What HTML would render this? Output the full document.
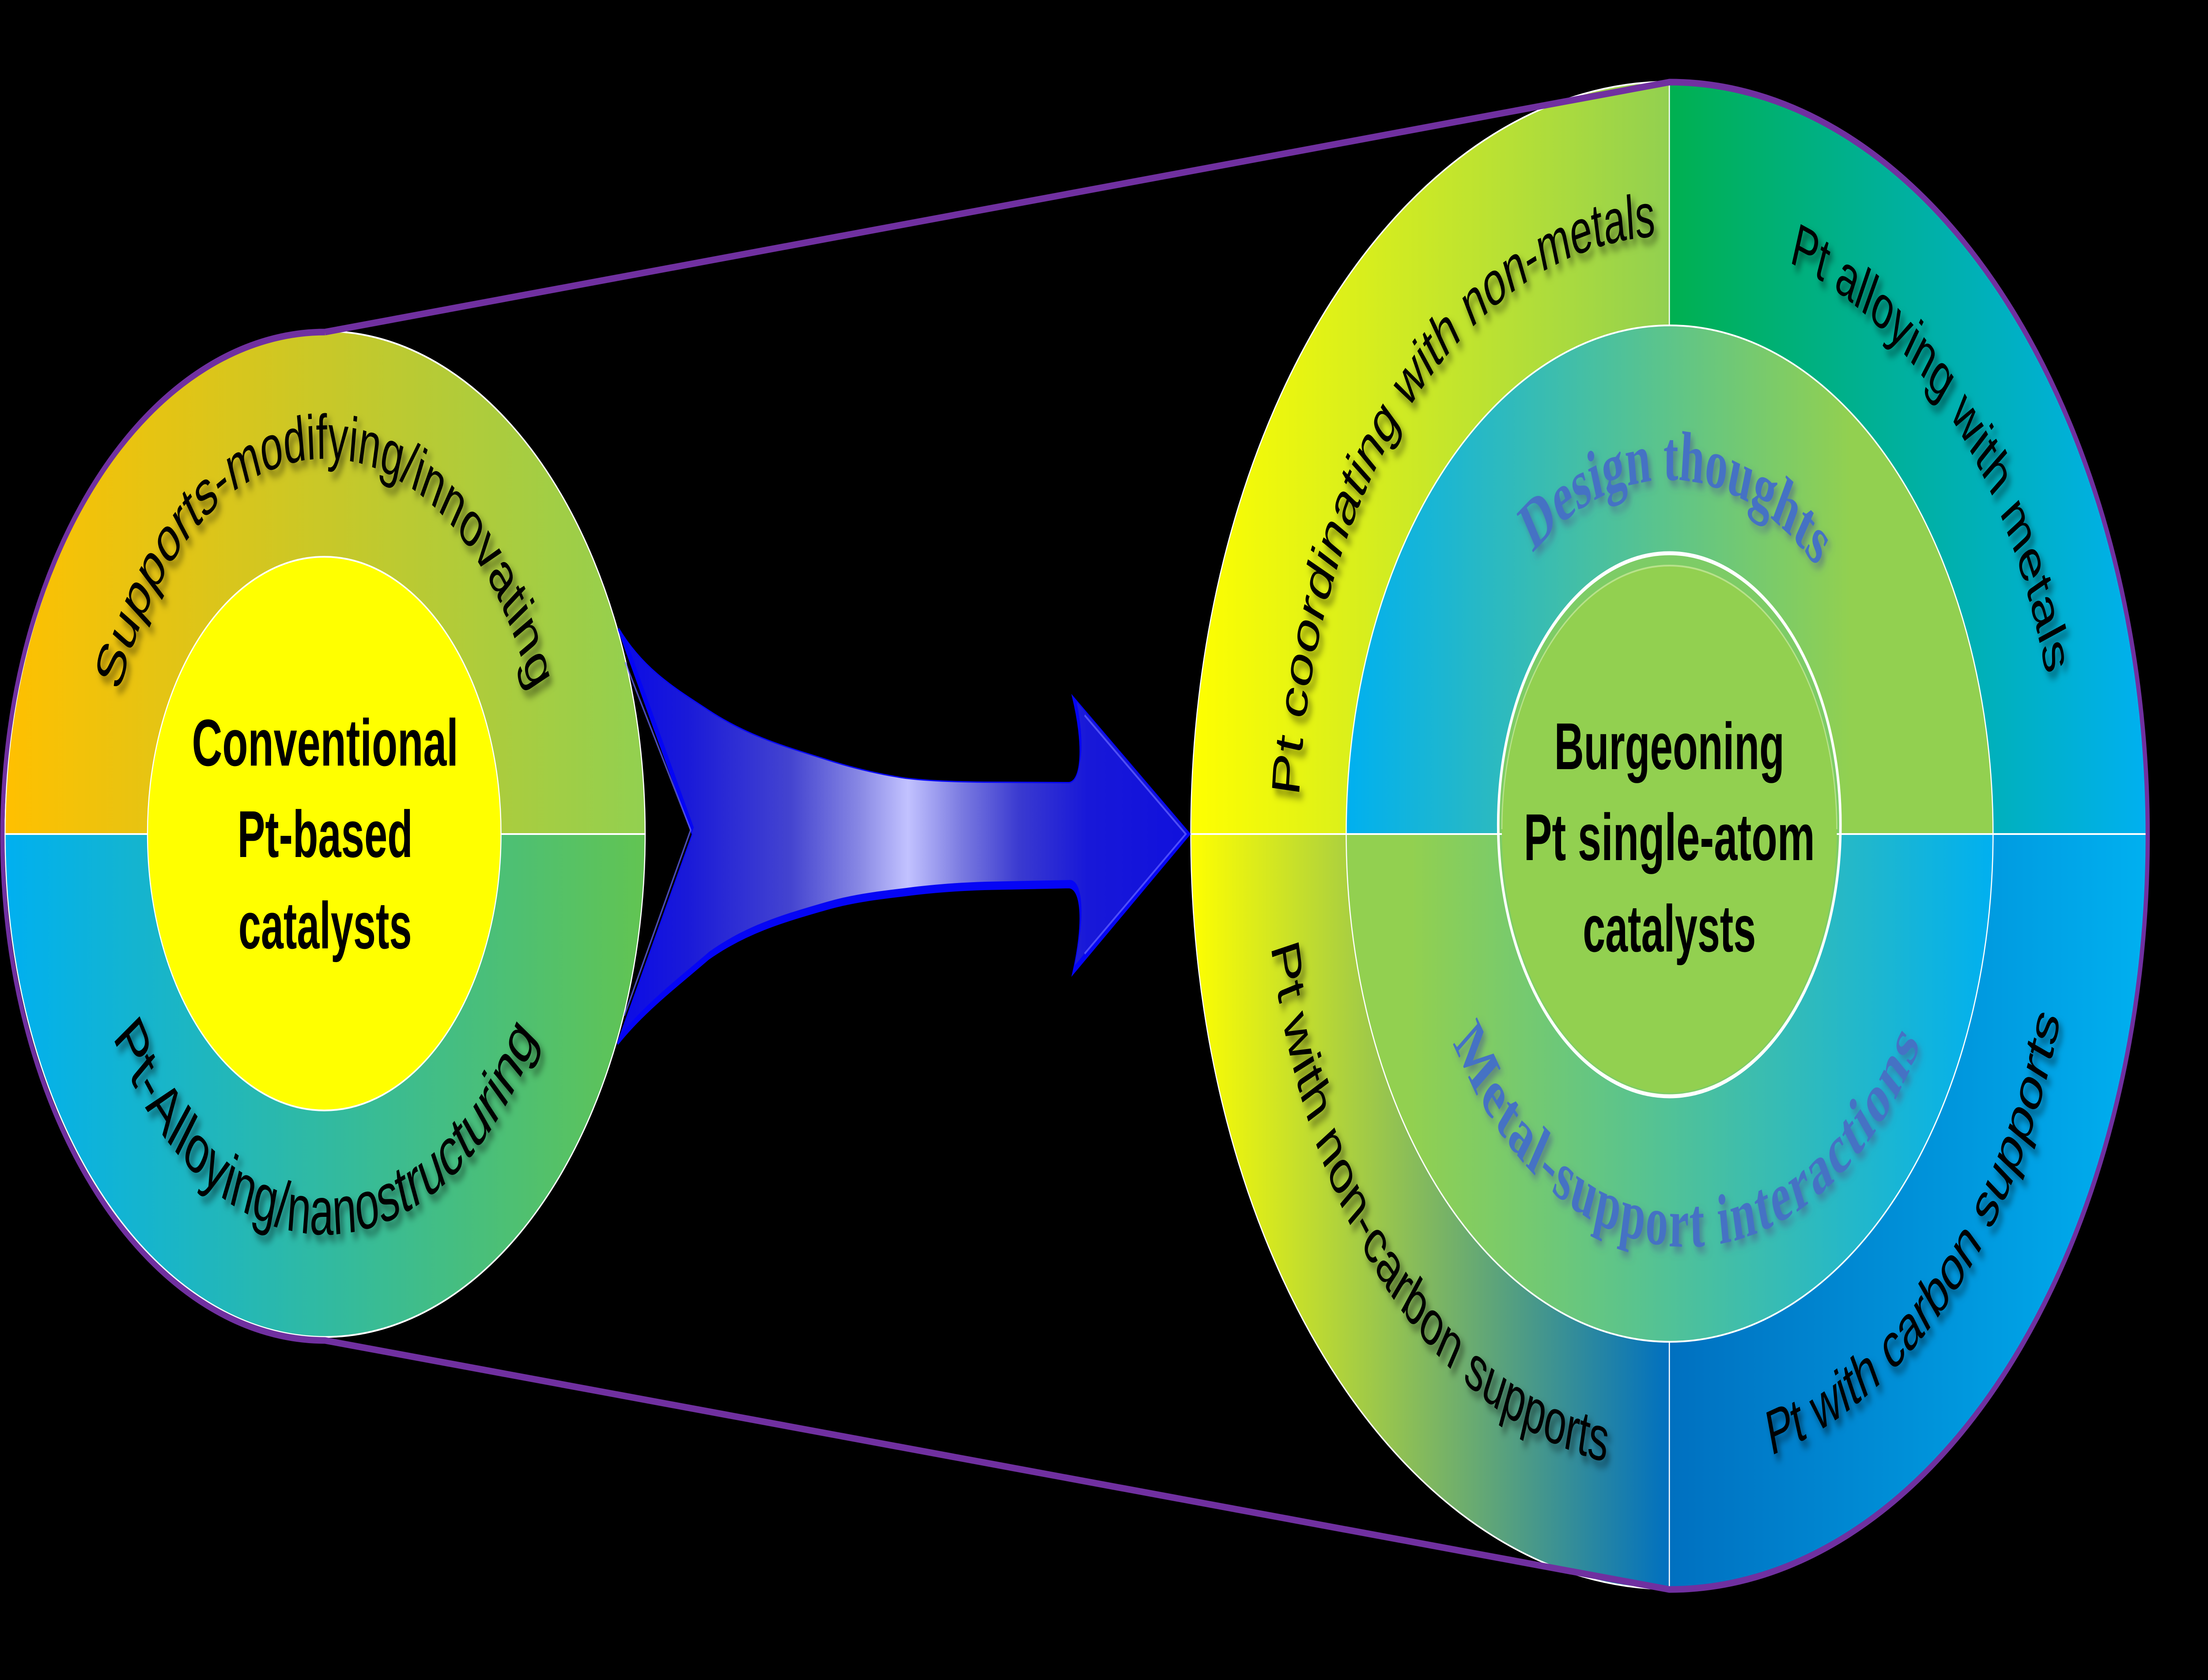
<!DOCTYPE html>
<html><head><meta charset="utf-8"><style>
html,body{margin:0;padding:0;background:#000;width:100%;height:100%;overflow:hidden}
svg{display:block;width:100vw;height:100vh}
.s{font-family:"Liberation Sans",sans-serif;font-size:143px;fill:#000}
.b{font-family:"Liberation Sans",sans-serif;font-size:150px;font-weight:bold;fill:#000;text-anchor:middle}
.d{font-family:"Liberation Serif",serif;font-size:160px;font-weight:bold;fill:#4472c4}
</style></head><body>
<svg xmlns="http://www.w3.org/2000/svg" viewBox="0 0 7858 3805" preserveAspectRatio="none">
<defs>
<linearGradient id="lt" gradientUnits="userSpaceOnUse" x1="18" x2="2296" y1="0" y2="0"><stop offset="0" stop-color="#ffc000"/><stop offset="1" stop-color="#92d050"/></linearGradient>
<linearGradient id="lb" gradientUnits="userSpaceOnUse" x1="18" x2="2296" y1="0" y2="0"><stop offset="0" stop-color="#00b0f0"/><stop offset="1" stop-color="#62c452"/></linearGradient>
<linearGradient id="otl" gradientUnits="userSpaceOnUse" x1="4238" x2="5941" y1="0" y2="0"><stop offset="0" stop-color="#ffff00"/><stop offset="1" stop-color="#92d050"/></linearGradient>
<linearGradient id="otr" gradientUnits="userSpaceOnUse" x1="5941" x2="7640" y1="0" y2="0"><stop offset="0" stop-color="#00b050"/><stop offset="1" stop-color="#00b0f0"/></linearGradient>
<linearGradient id="obl" gradientUnits="userSpaceOnUse" x1="4238" x2="5941" y1="0" y2="0"><stop offset="0" stop-color="#ffff00"/><stop offset="1" stop-color="#0070c0"/></linearGradient>
<linearGradient id="obr" gradientUnits="userSpaceOnUse" x1="5941" x2="7640" y1="0" y2="0"><stop offset="0" stop-color="#0070c0"/><stop offset="1" stop-color="#00b0f0"/></linearGradient>
<linearGradient id="mt" gradientUnits="userSpaceOnUse" x1="4791" x2="7095" y1="0" y2="0"><stop offset="0" stop-color="#00b0f0"/><stop offset=".78" stop-color="#92d050"/><stop offset="1" stop-color="#92d050"/></linearGradient>
<linearGradient id="mb" gradientUnits="userSpaceOnUse" x1="4791" x2="7095" y1="0" y2="0"><stop offset="0" stop-color="#92d050"/><stop offset=".1" stop-color="#92d050"/><stop offset="1" stop-color="#00b0f0"/></linearGradient>
<linearGradient id="ar" gradientUnits="userSpaceOnUse" x1="2200" x2="4233" y1="0" y2="0">
<stop offset="0" stop-color="#0b0be6"/><stop offset=".12" stop-color="#1a1ad8"/><stop offset=".3" stop-color="#4444d0"/><stop offset=".42" stop-color="#8888e4"/><stop offset=".505" stop-color="#c2c2ff"/><stop offset=".6" stop-color="#7a7ae0"/><stop offset=".7" stop-color="#3a3ad0"/><stop offset=".82" stop-color="#1818d8"/><stop offset="1" stop-color="#1010dd"/></linearGradient>
<filter id="sh" filterUnits="userSpaceOnUse" x="0" y="0" width="7858" height="3805"><feDropShadow dx="12" dy="14" stdDeviation="9" flood-color="#000" flood-opacity=".5"/></filter>
<filter id="sd" filterUnits="userSpaceOnUse" x="4700" y="800" width="2500" height="2200"><feDropShadow dx="10" dy="12" stdDeviation="9" flood-color="#4b5a8a" flood-opacity=".6"/></filter>
<path id="p1" d="M367 1889 A790 850 0 0 1 1947 1889"/>
<path id="p2" d="M282 1889 A875 907 0 0 0 2032 1889"/>
<path id="p3" d="M4621 1889 A1320 1355 0 0 1 7261 1889"/>
<path id="p4" d="M4551 1889 A1390 1360 0 0 1 7331 1889"/>
<path id="p5" d="M4501 1889 A1440 1440 0 0 0 7381 1889"/>
<path id="p6" d="M4488 1889 A1453 1453 0 0 0 7394 1889"/>
<path id="p7" d="M5145 1889 A796 802 0 0 1 6737 1889"/>
<path id="p8" d="M5040 1889 A965 935 0 0 0 6970 1889"/>
<path id="arw" d="M2201 1424 C2290 1520 2414 1565 2521 1610 C2661 1669 2802 1694 2942 1722 C3035 1741 3129 1755 3222 1764 C3316 1771 3409 1772 3503 1773 L3805 1774 C3850 1770 3860 1690 3819 1580 L4233 1889 L3819 2204 C3860 2090 3850 2012 3805 2009 L3503 2013 C3409 2015 3316 2019 3222 2027 C3129 2034 3035 2041 2942 2058 C2802 2084 2661 2108 2521 2171 C2414 2230 2290 2290 2198 2364 L2465 1890 Z"/>
<clipPath id="ac"><use href="#arw"/></clipPath>
</defs>
<rect width="7858" height="3805" fill="#000"/>

<!-- left wheel -->
<g stroke="#fff" stroke-width="4">
<path d="M1157 1889 L18 1889 A1139 1139 0 0 1 2296 1889 Z" fill="url(#lt)"/>
<path d="M1157 1889 L18 1889 A1139 1139 0 0 0 2296 1889 Z" fill="url(#lb)"/>
<ellipse cx="1154" cy="1888" rx="629" ry="627" fill="#ffff00"/>
</g>

<!-- right wheel -->
<g stroke="#fff" stroke-width="4">
<path d="M5941 1889 L4238 1889 A1703 1704 0 0 1 5941 185 Z" fill="url(#otl)"/>
<path d="M5941 1889 L5941 185 A1700 1704 0 0 1 7641 1889 Z" fill="url(#otr)"/>
<path d="M5941 1889 L4238 1889 A1703 1710 0 0 0 5941 3599 Z" fill="url(#obl)"/>
<path d="M5941 1889 L5941 3599 A1700 1710 0 0 0 7641 1889 Z" fill="url(#obr)"/>
<path d="M4791 1889 A1151 1152 0 0 1 7093 1889 Z" fill="url(#mt)"/>
<path d="M4791 1889 A1151 1150 0 0 0 7093 1889 Z" fill="url(#mb)"/>
</g>
<ellipse cx="5941" cy="1868" rx="609" ry="615" fill="#7dcc66" stroke="#fff" stroke-width="9"/>
<ellipse cx="5941" cy="1878" rx="596" ry="597" fill="#92d050"/>
<path d="M5345 1878 A596 597 0 0 1 6537 1878" fill="none" stroke="#b8e28a" stroke-width="4"/>
<path d="M5332 1889 H5345 M6537 1889 H6550" stroke="#fff" stroke-width="4"/>

<!-- belt -->
<g fill="none" stroke="#7030a0" stroke-width="15">
<path d="M1157 752 A1149 1142 0 0 0 1157 3036 L5941 3600 A1703 1707 0 0 0 5941 186 L1157 752"/>
</g>

<!-- arrow -->
<use href="#arw" fill="#0505f5" stroke="#0505f5" stroke-width="6"/>
<g clip-path="url(#ac)">
<use href="#arw" transform="translate(4 -16)" fill="url(#ar)"/>
</g>
<path d="M2225 1500 L2458 1880 L2222 2300 M3860 1620 L4220 1889 L3860 2160" fill="none" stroke="#6a6aff" stroke-width="5" opacity=".7"/>

<!-- curved labels -->
<g filter="url(#sh)">
<text class="s" style="font-size:143px"><textPath href="#p1" startOffset="50%" text-anchor="middle">Supports-modifying/innovating</textPath></text>
<text class="s" style="font-size:154px"><textPath href="#p2" startOffset="50%" text-anchor="middle">Pt-Alloying/nanostructuring</textPath></text>
<text class="s" style="font-size:141px"><textPath href="#p3" startOffset="2%">Pt coordinating with non-metals</textPath></text>
<text class="s" style="font-size:138px"><textPath href="#p4" startOffset="60%">Pt alloying with metals</textPath></text>
<text class="s"><textPath href="#p5" startOffset="5.65%">Pt with non-carbon supports</textPath></text>
<text class="s"><textPath href="#p6" startOffset="58%">Pt with carbon supports</textPath></text>
</g>
<g filter="url(#sd)">
<text class="d"><textPath href="#p7" startOffset="51%" text-anchor="middle">Design thoughts</textPath></text>
<text class="d" letter-spacing="6"><textPath href="#p8" startOffset="50%" text-anchor="middle">Metal-support interactions</textPath></text>
</g>

<!-- centre text -->
<text class="b" x="1157" y="1734" textLength="948" lengthAdjust="spacingAndGlyphs">Conventional</text>
<text class="b" x="1157" y="1941" textLength="624" lengthAdjust="spacingAndGlyphs">Pt-based</text>
<text class="b" x="1157" y="2148" textLength="617" lengthAdjust="spacingAndGlyphs">catalysts</text>
<text class="b" x="5941" y="1742" textLength="819" lengthAdjust="spacingAndGlyphs">Burgeoning</text>
<text class="b" x="5941" y="1948" textLength="1036" lengthAdjust="spacingAndGlyphs">Pt single-atom</text>
<text class="b" x="5941" y="2155" textLength="616" lengthAdjust="spacingAndGlyphs">catalysts</text>
</svg>
</body></html>
